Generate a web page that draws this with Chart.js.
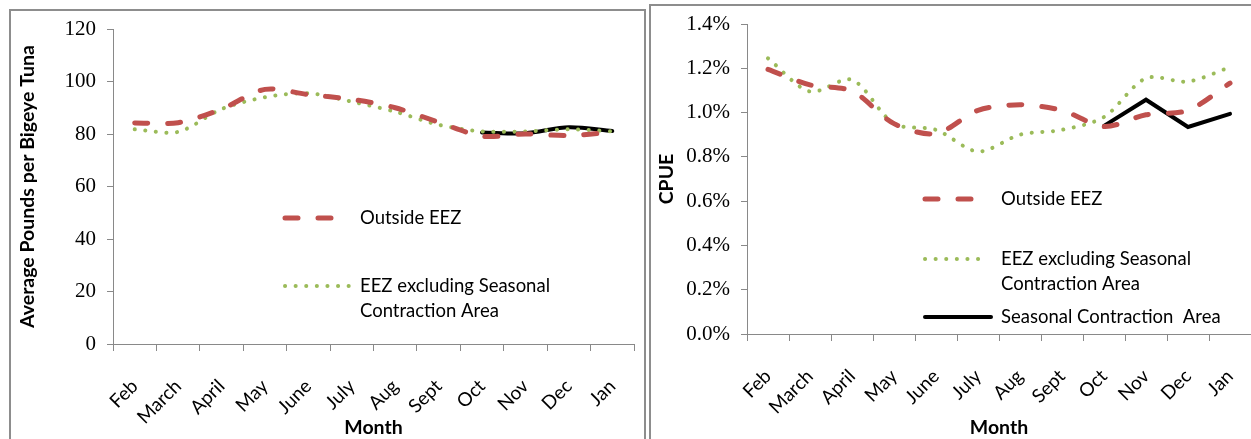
<!DOCTYPE html>
<html>
<head>
<meta charset="utf-8">
<script src="https://cdn.jsdelivr.net/npm/chart.js@4.4.1/dist/chart.umd.min.js"></script>
<style>
  html, body { margin: 0; padding: 0; background: #fff; overflow: hidden; width: 1251px; height: 439px; }
  .frame { position: absolute; border: 2px solid #8d8d8d; background: #fff; }
  #f1 { left: 9px; top: 9px; width: 633px; height: 440px; }
  #f2 { left: 649px; top: 4px; width: 620px; height: 450px; }
  canvas { position: absolute; }
</style>
</head>
<body>
<div class="frame" id="f1"></div>
<div class="frame" id="f2"></div>
<canvas id="weight" style="left:12px;top:12px" width="630" height="427"></canvas>
<canvas id="cpue" style="left:652px;top:7px" width="610" height="432"></canvas>
<script>
const months = ['Feb', 'March', 'April', 'May', 'June', 'July', 'Aug', 'Sept', 'Oct', 'Nov', 'Dec', 'Jan'];

// average pounds per bigeye tuna
const weightOutside = [84.2, 84.3, 89.5, 97, 95, 93.2, 90, 84.5, 79.2, 80, 79.4, 80.8];
const weightEEZ = [81.8, 80.8, 89.5, 94, 95.5, 92.3, 88.5, 83.5, 81, 81, 81.8, 81];
const weightSeasonal = [null, null, null, null, null, null, null, null, 80.6, 80.3, 82.6, 81.1];

// CPUE in percent
const cpueOutside = [1.195, 1.125, 1.097, 0.95, 0.905, 1.01, 1.035, 1.01, 0.937, 0.99, 1.01, 1.133];
const cpueEEZ = [1.245, 1.095, 1.148, 0.95, 0.922, 0.824, 0.9, 0.922, 0.98, 1.155, 1.14, 1.205];
const cpueSeasonal = [null, null, null, null, null, null, null, null, 0.94, 1.058, 0.935, 0.994];

const seriesNames = ['Outside EEZ', 'EEZ excluding Seasonal Contraction Area', 'Seasonal Contraction Area'];
const legendLines = [['Outside EEZ'], ['EEZ excluding Seasonal', 'Contraction Area'], ['Seasonal Contraction  Area']];

const RED = '#c0504d', GREEN = '#9bbb59', AXIS = '#898989';
const sans = 'Lato, "Open Sans", sans-serif';
const serif = '"Liberation Serif", serif';

function outsideDs(data) {
  return { label: seriesNames[0], data, borderColor: RED, borderWidth: 5, borderDash: [13, 20],
           borderCapStyle: 'round', tension: 0.3, pointRadius: 0 };
}
function eezDs(data) {
  return { label: seriesNames[1], data, borderColor: GREEN, borderWidth: 4, borderDash: [0.1, 10.5],
           borderCapStyle: 'round', tension: 0.3, pointRadius: 0 };
}
function seasonalDs(data, tension) {
  return { label: seriesNames[2], data, borderColor: '#000', borderWidth: 4, tension,
           borderCapStyle: 'round', pointRadius: 0, spanGaps: false };
}

// legend drawn inside the plot, like the spreadsheet original
const insideLegend = {
  id: 'insideLegend',
  afterDraw(chart, args, opts) {
    const ctx = chart.ctx;
    ctx.save();
    opts.items.forEach(it => {
      const ds = chart.data.datasets[it.index];
      ctx.beginPath();
      ctx.strokeStyle = ds.borderColor;
      ctx.lineWidth = ds.borderWidth;
      ctx.lineCap = 'round';
      ctx.setLineDash(ds.borderDash || []);
      ctx.moveTo(it.x0, it.y);
      ctx.lineTo(it.x1, it.y);
      ctx.stroke();
      ctx.setLineDash([]);
      ctx.fillStyle = '#000';
      ctx.font = '18.5px ' + sans;
      ctx.textBaseline = 'middle';
      legendLines[it.index].forEach((line, i) => ctx.fillText(line, opts.textX, it.y + i * 25));
    });
    ctx.restore();
  }
};

// keep the plot box where the original has it: drop the label overhang padding
function noOverhang(s) {
  s.paddingTop = 0; s.paddingBottom = 0; s.paddingLeft = 0; s.paddingRight = 0;
}

function baseOptions(yOpts, yTitle, yWidth, xHeight, titlePadY, titlePadX, legendOpts, padTop, padRight) {
  return {
    responsive: false,
    animation: false,
    layout: { padding: { top: padTop, right: padRight, bottom: 0, left: 0 } },
    plugins: { legend: { display: false }, tooltip: { enabled: false }, insideLegend: legendOpts },
    scales: {
      x: {
        offset: true,
        grid: { offset: true, drawOnChartArea: false, tickLength: 7, color: AXIS },
        border: { color: AXIS, width: 1 },
        ticks: { maxRotation: 45, minRotation: 45, padding: 24, color: '#000', font: { family: sans, size: 19 } },
        title: { display: true, text: 'Month', color: '#000', font: { family: sans, size: 19.5, weight: 'bold' },
                 padding: { top: titlePadX, bottom: 0 } },
        afterFit: s => { s.height = xHeight; noOverhang(s); }
      },
      y: Object.assign({
        grid: { drawOnChartArea: false, tickLength: 6, color: AXIS },
        border: { color: AXIS, width: 1 },
        title: { display: true, text: yTitle, color: '#000', font: { family: sans, size: 19.5, weight: 'bold' },
                 padding: { top: titlePadY, bottom: 0 } },
        afterFit: s => { s.width = yWidth; noOverhang(s); }
      }, yOpts)
    }
  };
}

new Chart(document.getElementById('weight'), {
  type: 'line',
  data: { labels: months, datasets: [outsideDs(weightOutside), eezDs(weightEEZ), seasonalDs(weightSeasonal, 0.3)] },
  options: baseOptions(
    { min: 0, max: 120, ticks: { stepSize: 20, padding: 11, color: '#000', font: { family: serif, size: 21 } } },
    'Average Pounds per Bigeye Tuna', 101, 95, 4, 1,
    { textX: 348, items: [ { index: 0, x0: 273, x1: 326, y: 206 }, { index: 1, x0: 273, x1: 337, y: 274 } ] },
    17, 8),
  plugins: [insideLegend]
});

new Chart(document.getElementById('cpue'), {
  type: 'line',
  data: { labels: months, datasets: [outsideDs(cpueOutside), eezDs(cpueEEZ), seasonalDs(cpueSeasonal, 0)] },
  options: baseOptions(
    { min: 0, max: 1.4, ticks: { stepSize: 0.2, padding: 11, color: '#000', font: { family: serif, size: 21 },
      callback: v => v.toFixed(1) + '%' } },
    'CPUE', 95, 105, 3, 2,
    { textX: 349, items: [ { index: 0, x0: 273, x1: 324, y: 192 }, { index: 1, x0: 273, x1: 336, y: 252 }, { index: 2, x0: 273, x1: 339, y: 310 } ] },
    17, 11),
  plugins: [insideLegend]
});
</script>
</body>
</html>
